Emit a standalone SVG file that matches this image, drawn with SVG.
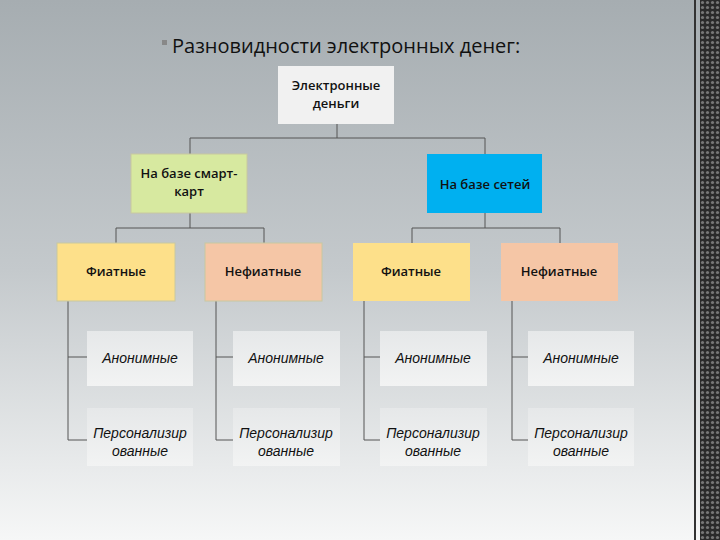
<svg xmlns="http://www.w3.org/2000/svg" width="720" height="540" viewBox="0 0 720 540">
<defs>
<linearGradient id="bg" x1="0" y1="0" x2="0" y2="1">
<stop offset="0" stop-color="#a6adb1"/><stop offset="0.5" stop-color="#c4c9cc"/><stop offset="1" stop-color="#f6f7f7"/>
</linearGradient>
<linearGradient id="leaf" x1="0" y1="0" x2="0" y2="1">
<stop offset="0" stop-color="#e6e8e9"/><stop offset="1" stop-color="#f2f3f3"/>
</linearGradient>
<pattern id="dots" width="5" height="5" patternUnits="userSpaceOnUse">
<rect width="5" height="5" fill="#2a2a2a"/><circle cx="2.5" cy="2.5" r="1.6" fill="#777"/>
</pattern>
</defs>
<style>
.b{stroke:#c8c8a0;stroke-width:1}
.t{font-family:"Open Sans","Liberation Sans",Arial,sans-serif;font-size:13px;font-weight:600;text-anchor:middle;fill:#111}
.i{font-family:"Liberation Sans",Arial,sans-serif;font-size:14px;font-style:italic;text-anchor:middle;fill:#111}
.c{stroke:#555;stroke-width:1;fill:none}
</style>
<rect width="720" height="540" fill="url(#bg)"/>
<rect x="700" y="0" width="20" height="540" fill="url(#dots)"/>
<rect x="694" y="0" width="2" height="540" fill="#333"/>
<rect x="162" y="40" width="5" height="5" fill="#888"/>
<text x="172" y="53" font-family="Open Sans,Liberation Sans,Arial,sans-serif" font-size="20" fill="#111">Разновидности электронных денег:</text>
<g id="connectors" class="c">
<path d="M337 124V138M190 138H485M190 138V154M485 138V154"/>
<path d="M190 213V228M116 228H264M116 228V243M264 228V243"/>
<path d="M485 213V228M412 228H560M412 228V243M560 228V243"/>
<path d="M68 301V440H87M68 357H87"/>
<path d="M216 301V440H233M216 357H233"/>
<path d="M364 301V440H380M364 357H380"/>
<path d="M512 301V440H528M512 357H528"/>
</g>
<g id="root"><rect x="278" y="66" width="116" height="58" fill="#f1f1f1"/><text class="t" x="336" y="90">Электронные</text><text class="t" x="336" y="108">деньги</text></g>
<g id="smart"><rect x="131" y="154" width="116" height="59" fill="#d7e9a0" class="b"/><text class="t" x="189" y="178">На базе смарт-</text><text class="t" x="189" y="196">карт</text></g>
<g id="net"><rect x="427" y="154" width="115" height="59" fill="#00b0f0"/><text class="t" x="485" y="189">На базе сетей</text></g>
<g id="f1"><rect x="57" y="243" width="118" height="58" fill="#fde08a" class="b"/><text class="t" x="116" y="276">Фиатные</text></g>
<g id="n1"><rect x="205" y="243" width="117" height="58" fill="#f5c6a6" class="b"/><text class="t" x="263" y="276">Нефиатные</text></g>
<g id="f2"><rect x="353" y="243" width="117" height="58" fill="#fde08a"/><text class="t" x="411" y="276">Фиатные</text></g>
<g id="n2"><rect x="501" y="243" width="117" height="58" fill="#f5c6a6"/><text class="t" x="559" y="276">Нефиатные</text></g>
<g id="a1"><rect x="87" y="331" width="106" height="55" fill="url(#leaf)"/><text class="i" x="140" y="363">Анонимные</text></g>
<g id="a2"><rect x="233" y="331" width="107" height="55" fill="url(#leaf)"/><text class="i" x="286" y="363">Анонимные</text></g>
<g id="a3"><rect x="380" y="331" width="107" height="55" fill="url(#leaf)"/><text class="i" x="433" y="363">Анонимные</text></g>
<g id="a4"><rect x="528" y="331" width="106" height="55" fill="url(#leaf)"/><text class="i" x="581" y="363">Анонимные</text></g>
<g id="p1"><rect x="87" y="408" width="106" height="58" fill="url(#leaf)"/><text class="i" x="140" y="438">Персонализир</text><text class="i" x="140" y="456">ованные</text></g>
<g id="p2"><rect x="233" y="408" width="107" height="58" fill="url(#leaf)"/><text class="i" x="286" y="438">Персонализир</text><text class="i" x="286" y="456">ованные</text></g>
<g id="p3"><rect x="380" y="408" width="107" height="58" fill="url(#leaf)"/><text class="i" x="433" y="438">Персонализир</text><text class="i" x="433" y="456">ованные</text></g>
<g id="p4"><rect x="528" y="408" width="106" height="58" fill="url(#leaf)"/><text class="i" x="581" y="438">Персонализир</text><text class="i" x="581" y="456">ованные</text></g>
</svg>
